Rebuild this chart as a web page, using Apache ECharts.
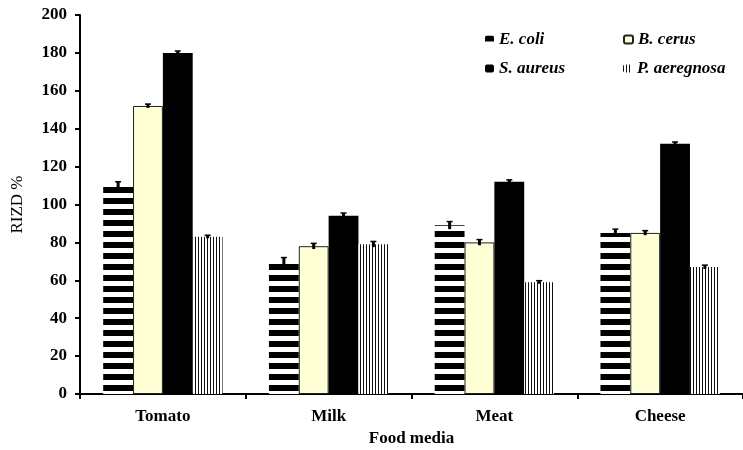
<!DOCTYPE html>
<html><head><meta charset="utf-8">
<script src="https://cdn.jsdelivr.net/npm/echarts@6/dist/echarts.min.js"></script>
<style>html,body{margin:0;padding:0;background:#fff}#c{width:743px;height:450px}</style>
</head><body><div id="c"></div>
<script>
var categories = ['Tomato', 'Milk', 'Meat', 'Cheese'];
var seriesNames = ['E. coli', 'B. cerus', 'S. aureus', 'P. aeregnosa'];
var eColi = [110, 70, 89, 85];
var bCerus = [152, 78, 80, 85];
var sAureus = [180, 94, 112, 132];
var pAeregnosa = [83, 79, 59, 67];
var eColiErr = [2, 2, 2, 2];
var bCerusErr = [1, 1.5, 1.5, 1.2];
var sAureusErr = [1, 1.5, 1, 1];
var pAeregnosaErr = [0.8, 1.5, 0.8, 1];
var yTicks = [0, 20, 40, 60, 80, 100, 120, 140, 160, 180, 200];

function hStripe() {
  var c = document.createElement('canvas'); c.width = 8; c.height = 11;
  var x = c.getContext('2d'); x.fillStyle = '#fff'; x.fillRect(0, 0, 8, 11);
  x.fillStyle = '#000'; x.fillRect(0, 0, 8, 6); return c;
}
function vStripe() {
  var c = document.createElement('canvas'); c.width = 3; c.height = 8;
  var x = c.getContext('2d'); x.fillStyle = '#fff'; x.fillRect(0, 0, 3, 8);
  x.fillStyle = '#111'; x.fillRect(0, 0, 1, 8); return c;
}
var colors = [
  {image: hStripe(), repeat: 'repeat'},
  '#FFFFD6',
  '#000000',
  {image: vStripe(), repeat: 'repeat'}
];
var values = [eColi, bCerus, sAureus, pAeregnosa];
var errs = [eColiErr, bCerusErr, sAureusErr, pAeregnosaErr];
var GAP = 0.28;
var FONT = 'Liberation Serif';

var series = seriesNames.map(function (n, i) {
  return {
    name: n, type: 'bar', data: values[i], barGap: '0%', barCategoryGap: (GAP * 100) + '%',
    itemStyle: {color: colors[i], borderColor: i === 1 ? '#222' : 'transparent', borderWidth: i === 1 ? 1 : 0},
    emphasis: {disabled: true}
  };
});
seriesNames.forEach(function (n, i) {
  var d = values[i].map(function (v, k) { return [k, v, errs[i][k]]; });
  series.push({
    type: 'custom', data: d, z: 5, silent: true,
    renderItem: function (params, api) {
      var k = api.value(0), v = api.value(1), e = api.value(2);
      var bw = api.size([1, 0])[0] * (1 - GAP) / 4;
      var off = (i - 1.5) * bw;
      var top = api.coord([k, v + e]), bot = api.coord([k, v - e]);
      var x = top[0] + off;
      return {type: 'group', children: [
        {type: 'line', shape: {x1: x, y1: top[1], x2: x, y2: bot[1]}, style: {stroke: '#000', lineWidth: 3}},
        {type: 'line', shape: {x1: x - 3, y1: top[1], x2: x + 3, y2: top[1]}, style: {stroke: '#000', lineWidth: 1.5}}
      ]};
    }
  });
});

var legendPos = [[480, 26], [618, 26], [480, 55], [618, 55]];
var legends = seriesNames.map(function (n, i) {
  return {
    data: [n], left: legendPos[i][0], top: legendPos[i][1], itemWidth: 9, itemHeight: 8, itemGap: 0,
    selectedMode: false,
    textStyle: {fontFamily: FONT, fontWeight: 'bold', fontStyle: 'italic', fontSize: 17, color: '#000'}
  };
});

var chart = echarts.init(document.getElementById('c'));
chart.setOption({
  animation: false,
  legend: legends,
  grid: {left: 80, right: 0, top: 15, bottom: 56, containLabel: false, outerBoundsMode: 'none'},
  xAxis: {
    type: 'category', data: categories,
    name: 'Food media', nameLocation: 'middle', nameGap: 36,
    nameTextStyle: {fontFamily: FONT, fontWeight: 'bold', fontSize: 17, color: '#000'},
    axisLine: {lineStyle: {color: '#000', width: 2}},
    axisTick: {show: true, length: 5, lineStyle: {color: '#000', width: 2}},
    axisLabel: {fontFamily: FONT, fontWeight: 'bold', fontSize: 17, color: '#000', margin: 14}
  },
  yAxis: {
    type: 'value', min: yTicks[0], max: yTicks[yTicks.length - 1], interval: 20,
    name: 'RIZD %', nameLocation: 'middle', nameGap: 54, nameRotate: 90,
    nameTextStyle: {fontFamily: FONT, fontSize: 17, color: '#000'},
    axisLine: {show: true, lineStyle: {color: '#000', width: 2}},
    axisTick: {show: true, length: 5, lineStyle: {color: '#000', width: 2}},
    splitLine: {show: false},
    axisLabel: {fontFamily: FONT, fontWeight: 'bold', fontSize: 17, color: '#000', margin: 13}
  },
  series: series
});
</script></body></html>
